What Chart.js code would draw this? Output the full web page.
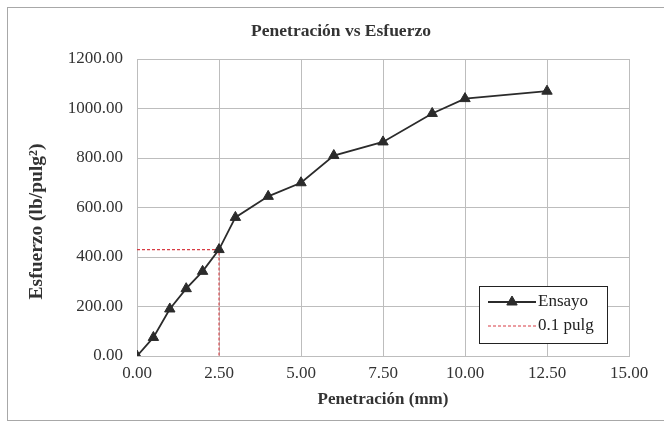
<!DOCTYPE html>
<html lang="es">
<head>
  <meta charset="UTF-8" />
  <title>Penetración vs Esfuerzo</title>
  <script src="https://cdn.jsdelivr.net/npm/chart.js"></script>
  <style>
    html, body { margin: 0; padding: 0; background: #ffffff; }
    #wrap { width: 664px; height: 424px; }
  </style>
</head>
<body>
  <div id="wrap"><canvas id="cbrChart" width="664" height="424"></canvas></div>

  <script>
    // penetration (mm) and stress (lb/pulg2) readings of the test
    const penetracion = [0, 0.5, 1.0, 1.5, 2.0, 2.5, 3.0, 4.0, 5.0, 6.0, 7.5, 9.0, 10.0, 12.5];
    const esfuerzo = [0, 75, 190, 272, 342, 430, 560, 645, 700, 810, 865, 980, 1040, 1070];

    // 0.1 pulg reference (2.54 mm ~ 2.5 on the chart)
    const refPenetracion = 2.5;
    const refEsfuerzo = 430;

    const xTicks = [0, 2.5, 5, 7.5, 10, 12.5, 15];
    const yTicks = [0, 200, 400, 600, 800, 1000, 1200];

    const chartTitle = 'Penetración vs Esfuerzo';
    const xTitle = 'Penetración (mm)';
    const yTitle = 'Esfuerzo (lb/pulg²)';

    const serif = "'Liberation Serif', 'Times New Roman', serif";
    const textColor = '#333333';
    const gridColor = '#bdbdbd';

    const ensayoData = penetracion.map((p, i) => ({ x: p, y: esfuerzo[i] }));
    const refData = [
      { x: 0, y: refEsfuerzo },
      { x: refPenetracion, y: refEsfuerzo },
      { x: refPenetracion, y: 0 }
    ];

    // white page with the thin frame around the whole chart
    const frame = {
      id: 'frame',
      beforeDraw(chart) {
        const c = chart.ctx;
        c.save();
        c.fillStyle = '#ffffff';
        c.fillRect(0, 0, chart.width, chart.height);
        c.strokeStyle = '#a8a8a8';
        c.lineWidth = 1;
        c.strokeRect(7.5, 7.5, chart.width + 20, 413);
        c.restore();
      }
    };

    // chart title sits a bit right of centre, y title a bit below the plot middle (Excel layout)
    const titles = {
      id: 'titles',
      afterDraw(chart) {
        const c = chart.ctx;
        const a = chart.chartArea;
        c.save();
        c.fillStyle = textColor;
        c.textAlign = 'center';
        c.textBaseline = 'middle';
        c.font = 'bold 17.5px ' + serif;
        c.fillText(chartTitle, chart.width / 2 + 9, 31);

        c.translate(37, (a.top + a.bottom) / 2 + 14);
        c.rotate(-Math.PI / 2);
        c.font = 'bold 19.5px ' + serif;
        c.fillText(yTitle, 0, 0);
        c.restore();
      }
    };

    // legend box inside the plot, bottom right
    const boxLegend = {
      id: 'boxLegend',
      afterDatasetsDraw(chart) {
        const c = chart.ctx;
        const a = chart.chartArea;
        const w = 128, h = 57;
        const x = a.right - 22 - w, y = a.bottom - 13 - h;
        c.save();
        c.fillStyle = '#ffffff';
        c.fillRect(x, y, w, h);
        c.strokeStyle = '#222';
        c.lineWidth = 1;
        c.strokeRect(Math.round(x) + 0.5, Math.round(y) + 0.5, w, h);

        c.font = '17px ' + serif;
        c.textBaseline = 'middle';

        chart.data.datasets.forEach((ds, i) => {
          const ry = y + 16 + i * 24;
          const lx0 = x + 9, lx1 = x + 57;
          c.save();
          c.strokeStyle = ds.borderColor;
          c.lineWidth = ds.borderWidth;
          c.setLineDash(ds.borderDash || []);
          c.beginPath();
          c.moveTo(lx0, ry);
          c.lineTo(lx1, ry);
          c.stroke();
          c.restore();
          if (ds.pointRadius > 0) {
            c.fillStyle = ds.pointBackgroundColor;
            c.strokeStyle = ds.pointBorderColor;
            Chart.helpers.drawPoint(c, {
              pointStyle: ds.pointStyle,
              radius: ds.pointRadius,
              rotation: 0,
              borderWidth: 1
            }, (lx0 + lx1) / 2, ry);
          }
          c.fillStyle = '#222';
          c.fillText(ds.label, lx1 + 2, ry);
        });
        c.restore();
      }
    };

    new Chart(document.getElementById('cbrChart'), {
      type: 'line',
      data: {
        datasets: [
          {
            label: 'Ensayo',
            data: ensayoData,
            borderColor: '#2b2b2b',
            borderWidth: 1.8,
            pointStyle: 'triangle',
            pointRadius: 6,
            pointBackgroundColor: '#2b2b2b',
            pointBorderColor: '#2b2b2b',
            pointBorderWidth: 1,
            tension: 0
          },
          {
            label: '0.1 pulg',
            data: refData,
            borderColor: '#d83c44',
            borderWidth: 1.1,
            borderDash: [3, 2],
            pointRadius: 0,
            tension: 0
          }
        ]
      },
      options: {
        responsive: false,
        animation: false,
        layout: { padding: { left: 20, right: 35, top: 59, bottom: 10 } },
        plugins: {
          legend: { display: false },
          tooltip: { enabled: false },
          title: { display: false }
        },
        scales: {
          x: {
            type: 'linear',
            min: 0,
            max: 15,
            afterFit(scale) { scale.height = 58; },
            afterBuildTicks(scale) { scale.ticks = xTicks.map(v => ({ value: v })); },
            ticks: {
              color: textColor,
              padding: 7,
              maxRotation: 0,
              font: { family: serif, size: 17 },
              callback: v => Number(v).toFixed(2)
            },
            grid: { color: gridColor, drawTicks: false },
            border: { color: gridColor },
            title: {
              display: true,
              text: xTitle,
              color: textColor,
              font: { family: serif, size: 17, weight: 'bold' },
              padding: { top: 0, bottom: 4 }
            }
          },
          y: {
            type: 'linear',
            min: 0,
            max: 1200,
            afterFit(scale) { scale.width = 117; },
            afterBuildTicks(scale) { scale.ticks = yTicks.map(v => ({ value: v })); },
            ticks: {
              color: textColor,
              padding: 14,
              font: { family: serif, size: 17 },
              callback: v => Number(v).toFixed(2)
            },
            grid: { color: gridColor, drawTicks: false },
            border: { color: gridColor },
            title: { display: false }
          }
        }
      },
      plugins: [frame, titles, boxLegend]
    });
  </script>
</body>
</html>
